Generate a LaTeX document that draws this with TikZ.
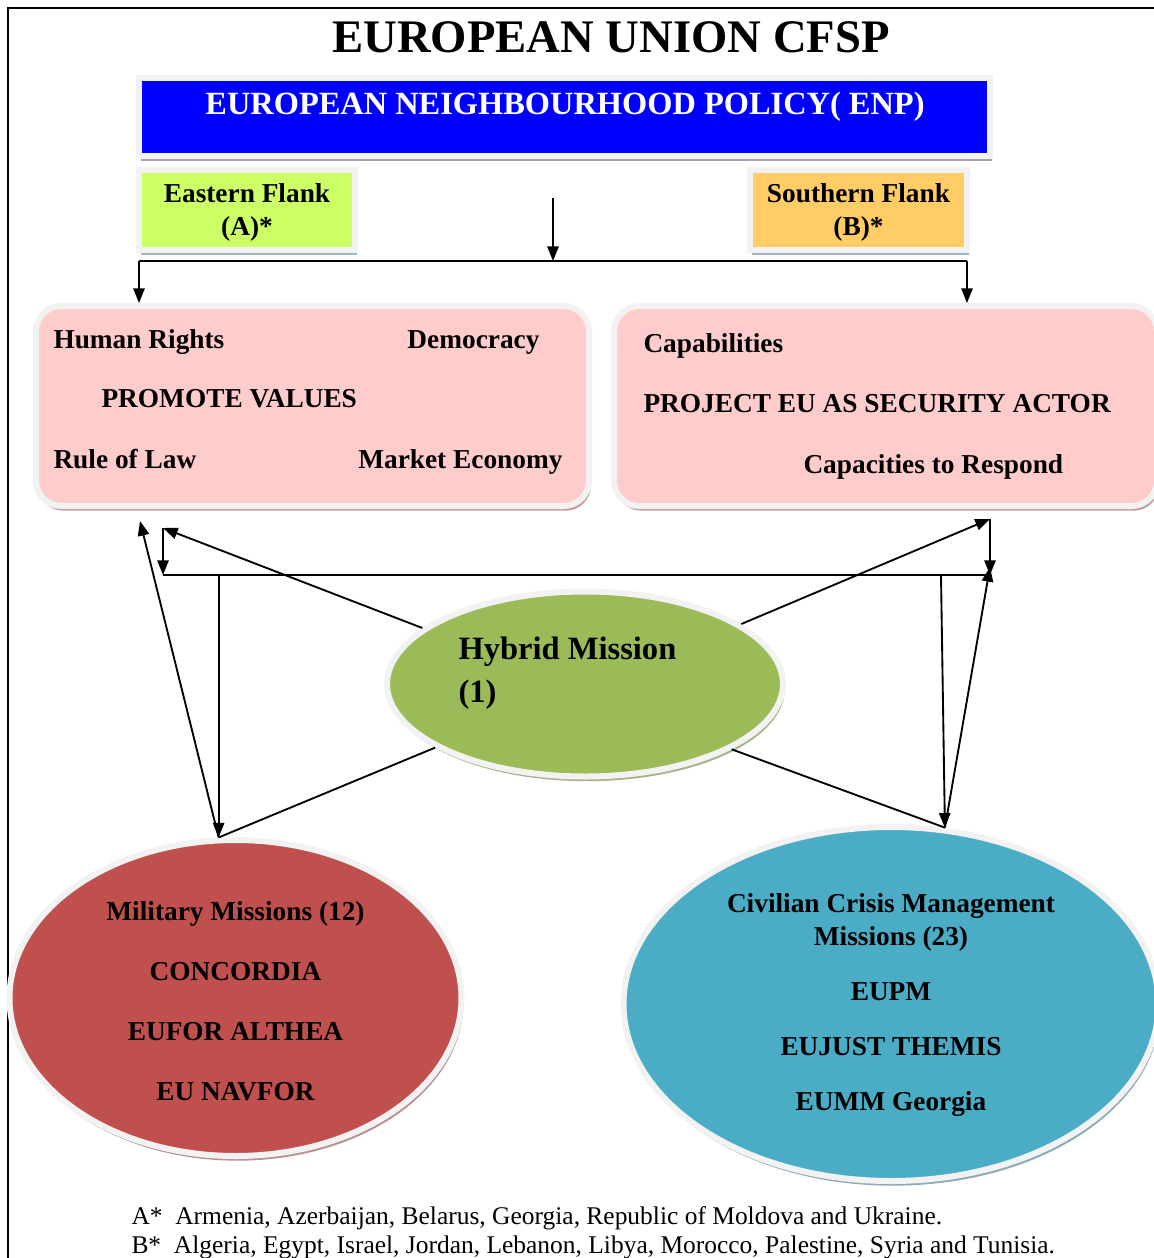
\documentclass[tikz,border=0pt]{standalone}
\usepackage{fontspec}
\setmainfont{Liberation Serif}
\usetikzlibrary{arrows.meta,shapes.geometric,shadows}

\definecolor{enpblue}{RGB}{0,0,255}
\definecolor{enpshade}{RGB}{165,160,180}
\definecolor{eastgreen}{RGB}{204,255,102}
\definecolor{southorange}{RGB}{255,204,102}
\definecolor{flankshade}{RGB}{160,185,200}
\definecolor{valuepink}{RGB}{255,204,204}
\definecolor{pinkshade}{RGB}{195,155,155}
\definecolor{hybridgreen}{RGB}{155,187,89}
\definecolor{hybridshade}{RGB}{165,180,140}
\definecolor{militaryred}{RGB}{192,80,77}
\definecolor{militaryshade}{RGB}{185,145,145}
\definecolor{civilblue}{RGB}{75,172,198}
\definecolor{civilshade}{RGB}{140,170,180}
\definecolor{rimgray}{RGB}{242,242,242}

\newcommand{\ttlfont}{\fontsize{35}{42}\selectfont\bfseries}
\newcommand{\enpfont}{\fontsize{24.3}{28}\selectfont\bfseries}
\newcommand{\boxfont}{\fontsize{20.5}{24}\selectfont\bfseries}
\newcommand{\notefont}{\fontsize{19.1}{22}\selectfont}

\tikzset{every picture/.style={line width=0.75pt}}
\tikzset{
  rim/.style={draw=rimgray, line width=4.5pt, inner sep=0pt},
  shadowed/.style={drop shadow={shadow xshift=1.5pt, shadow yshift=-3.5pt, fill=#1, opacity=1}},
  txt/.style={inner sep=0pt},
  link/.style={line width=1.4pt},
  flow/.style={link, -{Triangle[length=11pt,width=8.5pt]}},
}

\begin{document}
\begin{tikzpicture}[x=0.75pt,y=0.75pt,yscale=-1,xscale=1]
\useasboundingbox (0,0) rectangle (1154,1258);
\clip (0,0) rectangle (1154,1258);

%Frame
\draw [line width=1.5pt] (8,1258) -- (8,8) -- (1154,8) ;

% Text Node
\node (title) [txt, anchor=base] at (611,52) {\ttlfont EUROPEAN UNION CFSP};

%Shape: Rectangle [id:enp]
\node (enp) [rim, shadowed=enpshade, fill=enpblue, minimum width=638.25pt, minimum height=58.5pt] at (564.5,117) {};
% Text Node
\node (enptext) [txt, anchor=base, text=white] at (565,114) {\enpfont EUROPEAN NEIGHBOURHOOD POLICY( ENP)};

%Shape: Rectangle [id:east]
\node (east) [rim, shadowed=flankshade, fill=eastgreen, minimum width=162pt, minimum height=60pt, align=center, font=\fontsize{20.5}{24.75}\selectfont\bfseries] at (247,210) {\rule{0pt}{18.6pt}Eastern Flank\\(A)*};
%Shape: Rectangle [id:south]
\node (south) [rim, shadowed=flankshade, fill=southorange, minimum width=162.75pt, minimum height=60pt, align=center, font=\fontsize{20.5}{24.75}\selectfont\bfseries] at (858.5,210) {\rule{0pt}{18.6pt}Southern Flank\\(B)*};

%Shape: Rounded Rect [id:values]
\node (values) [rim, shadowed=pinkshade, fill=valuepink, rounded corners=19pt, minimum width=414.75pt, minimum height=150pt] at (312.5,406) {};
%Shape: Rounded Rect [id:security]
\node (security) [rim, shadowed=pinkshade, fill=valuepink, rounded corners=19pt, minimum width=407.25pt, minimum height=150pt] at (885.5,406) {};

% Text Node
\node (rights) [txt, anchor=base west] at (53,348) {\boxfont Human Rights};
% Text Node
\node (democracy) [txt, anchor=base east] at (540,348) {\boxfont Democracy};
% Text Node
\node (promote) [txt, anchor=base west] at (101,407) {\boxfont PROMOTE VALUES};
% Text Node
\node (law) [txt, anchor=base west] at (53,468) {\boxfont Rule of Law};
% Text Node
\node (market) [txt, anchor=base east] at (563,468) {\boxfont Market Economy};
% Text Node
\node (capab) [txt, anchor=base west] at (643,352) {\boxfont Capabilities};
% Text Node
\node (project) [txt, anchor=base west] at (643,412) {\boxfont PROJECT EU AS SECURITY ACTOR};
% Text Node
\node (respond) [txt, anchor=base west] at (803,473) {\boxfont Capacities to Respond};

%Shape: Ellipse [id:hybrid]
\node (hybrid) [ellipse, rim, shadowed=hybridshade, fill=hybridgreen, minimum width=297pt, minimum height=138.75pt] at (585,684) {};
% Text Node
\node (hybtext) [txt, anchor=north west, align=left, font=\fontsize{24.4}{32.25}\selectfont\bfseries] at (458,636) {Hybrid Mission\\(1)};

%Shape: Ellipse [id:military]
\node (military) [ellipse, rim, shadowed=militaryshade, fill=militaryred, minimum width=339pt, minimum height=237pt, align=center, font=\fontsize{20.5}{45}\selectfont\bfseries] at (235.5,998) {\rule{0pt}{18.8pt}Military Missions (12)\\CONCORDIA\\EUFOR ALTHEA\\EU NAVFOR};
%Shape: Ellipse [id:civilian]
\node (civilian) [ellipse, rim, shadowed=civilshade, fill=civilblue, minimum width=401.25pt, minimum height=265.5pt, align=center, font=\fontsize{20.5}{24.75}\selectfont\bfseries] at (891,1004) {\rule{0pt}{15.5pt}Civilian Crisis Management\\Missions (23)\\[16.5pt]EUPM\\[16.5pt]EUJUST THEMIS\\[16.5pt]EUMM Georgia};

%Upper connectors
\coordinate (enpdrop) at (553,198);
\coordinate (busW) at (139,261);
\coordinate (busE) at (967,261);
\draw [flow] (enpdrop) -- (enpdrop |- busW) ;
\draw [link] (busW) -- (busE) ;
\draw [flow] (busW) -- (busW |- values.north) ;
\draw [flow] (busE) -- (busE |- security.north) ;

%Lower connectors
\coordinate (valdrop) at (163,528);
\coordinate (valtip) at (140,521);
\coordinate (sectip) at (990,519);
\coordinate (secup) at (990,567);
\coordinate (busSW) at (163,575);
\coordinate (busSE) at (990,575);
\coordinate (milhead) at (military.96);
\coordinate (civhead) at (civilian.73);
\coordinate (miltap) at (milhead |- busSW);
\coordinate (civtap) at (941,575);
\draw [link] (busSW) -- (busSE) ;
\draw [flow] (hybrid.161) -- (valdrop) ;
\draw [flow] (valdrop) -- (busSW) ;
\draw [flow] (milhead) -- (valtip) ;
\draw [flow] (miltap) -- (milhead) ;
\draw [link] (hybrid.203) -- (milhead) ;
\draw [flow] (hybrid.21) -- (sectip) ;
\draw [flow] (sectip) -- (busSE) ;
\draw [flow] (civhead) -- (secup) ;
\draw [flow] (civtap) -- (civhead) ;
\draw [link] (hybrid.-24) -- (civhead) ;

% Text Node
\node (noteA) [txt, anchor=base west] at (131,1224) {\notefont A*\ \ Armenia, Azerbaijan, Belarus, Georgia, Republic of Moldova and Ukraine.};
% Text Node
\node (noteB) [txt, anchor=base west] at (131,1253) {\notefont B*\ \ Algeria, Egypt, Israel, Jordan, Lebanon, Libya, Morocco, Palestine, Syria and Tunisia.};

\end{tikzpicture}
\end{document}
